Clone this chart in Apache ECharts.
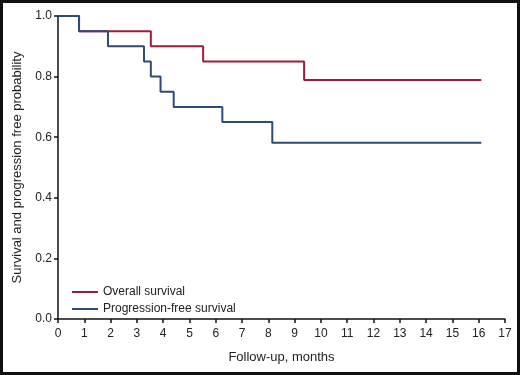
<!DOCTYPE html>
<html>
<head>
<meta charset="utf-8">
<script src="https://cdn.jsdelivr.net/npm/echarts@6/dist/echarts.min.js"></script>
<style>
  html, body { margin: 0; padding: 0; background: #fff; }
  #chart { width: 520px; height: 375px; box-sizing: border-box; border: 3px solid #111; }
</style>
</head>
<body>
<div id="chart"></div>
<script>
// Kaplan-Meier curves (months, probability)
const osTimes = [0, 0.8, 3.53, 5.52, 9.36, 16.1]
const osSurv = [1.0, 0.95, 0.9, 0.85, 0.789, 0.789]
const pfsTimes = [0, 0.8, 1.9, 3.27, 3.53, 3.9, 4.4, 6.25, 8.15, 16.1]
const pfsSurv = [1.0, 0.95, 0.9, 0.85, 0.8, 0.75, 0.7, 0.65, 0.582, 0.582]
const seriesNames = ['Overall survival', 'Progression-free survival']

const font = 'Liberation Sans, Arial, sans-serif'
const zip = (xs, ys) => xs.map((x, i) => [x, ys[i]])

const chart = echarts.init(document.getElementById('chart'))
chart.setOption({
  animation: false,
  textStyle: { fontFamily: font },
  grid: { left: 55, right: 12, top: 13, bottom: 53 },
  legend: {
    orient: 'vertical',
    left: 64,
    top: 278,
    itemWidth: 26,
    itemHeight: 10,
    itemGap: 5,
    icon: 'path://M0,4 L26,4 L26,6 L0,6 Z',
    textStyle: { fontSize: 12, color: '#222', fontFamily: font },
    data: seriesNames
  },
  xAxis: {
    type: 'value',
    min: 0,
    max: 17,
    interval: 1,
    offset: 3,
    name: 'Follow-up, months',
    nameLocation: 'middle',
    nameGap: 29,
    nameTextStyle: { fontSize: 13, color: '#222' },
    axisLine: { lineStyle: { color: '#111', width: 1.5 } },
    axisTick: { inside: false, length: 4, lineStyle: { color: '#111', width: 1.5 } },
    axisLabel: { fontSize: 12, color: '#222', margin: 6 },
    splitLine: { show: false }
  },
  yAxis: {
    type: 'value',
    min: 0,
    max: 1,
    interval: 0.2,
    name: 'Survival and progression free probability',
    nameLocation: 'middle',
    nameGap: 34,
    nameTextStyle: { fontSize: 13, color: '#222' },
    axisLine: { show: true, lineStyle: { color: '#111', width: 1.5 } },
    axisTick: { show: true, length: 4, lineStyle: { color: '#111', width: 1.5 } },
    axisLabel: { fontSize: 12, color: '#222', margin: 6, formatter: v => v.toFixed(1) },
    splitLine: { show: false }
  },
  series: [
    {
      name: seriesNames[0],
      type: 'line',
      step: 'end',
      symbol: 'none',
      data: zip(osTimes, osSurv),
      itemStyle: { color: '#a3193a' },
      lineStyle: { color: '#a3193a', width: 2 }
    },
    {
      name: seriesNames[1],
      type: 'line',
      step: 'end',
      symbol: 'none',
      data: zip(pfsTimes, pfsSurv),
      itemStyle: { color: '#2d4a78' },
      lineStyle: { color: '#2d4a78', width: 2 }
    }
  ]
})
</script>
</body>
</html>
